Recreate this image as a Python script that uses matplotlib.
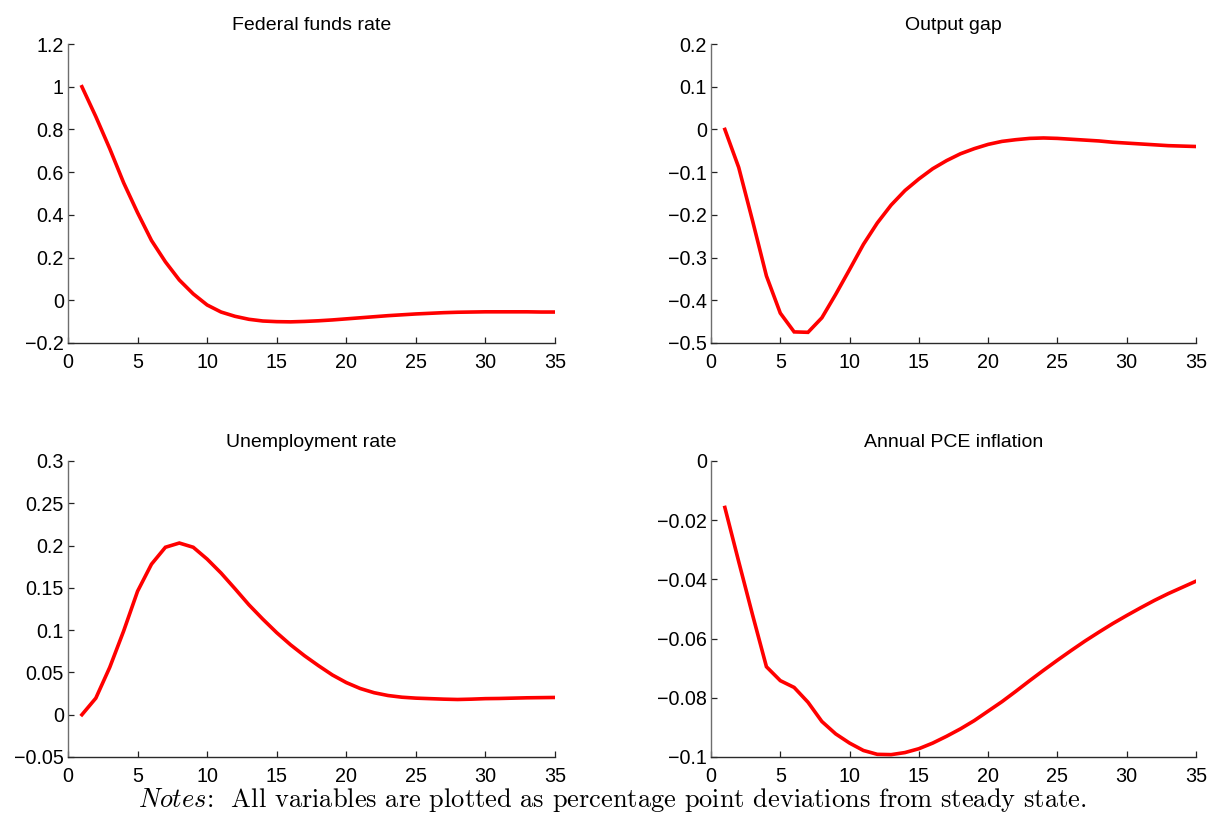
import matplotlib
matplotlib.use("Agg")
import matplotlib.pyplot as plt
from matplotlib.ticker import FuncFormatter

plt.rcParams["font.family"] = ["Liberation Sans", "DejaVu Sans"]
plt.rcParams["mathtext.fontset"] = "cm"

quarters = list(range(1, 36))

fed_funds = [1.00, 0.86, 0.71, 0.55, 0.41, 0.28, 0.18, 0.095, 0.03, -0.022,
             -0.055, -0.075, -0.089, -0.097, -0.100, -0.101, -0.099, -0.096, -0.092, -0.087,
             -0.082, -0.077, -0.072, -0.068, -0.064, -0.061, -0.058, -0.056, -0.055, -0.054,
             -0.054, -0.054, -0.054, -0.055, -0.055]

output_gap = [0.0, -0.089, -0.214, -0.343, -0.430, -0.474, -0.475, -0.441, -0.386, -0.328,
              -0.269, -0.219, -0.177, -0.143, -0.116, -0.092, -0.073, -0.057, -0.045, -0.035,
              -0.028, -0.024, -0.021, -0.020, -0.021, -0.023, -0.025, -0.027, -0.030, -0.032,
              -0.034, -0.036, -0.038, -0.039, -0.040]

unemployment = [0.0, 0.0196, 0.056, 0.099, 0.146, 0.178, 0.198, 0.203, 0.198, 0.184,
                0.1675, 0.149, 0.130, 0.113, 0.097, 0.0826, 0.0697, 0.058, 0.047, 0.038,
                0.031, 0.026, 0.0227, 0.0207, 0.0196, 0.019, 0.0184, 0.018, 0.0184, 0.019,
                0.0192, 0.0196, 0.020, 0.0202, 0.0204]

pce_inflation = [-0.0157, -0.034, -0.052, -0.0695, -0.0742, -0.0765, -0.0815, -0.088, -0.0922, -0.0953,
                 -0.0978, -0.0991, -0.0992, -0.0985, -0.0972, -0.0953, -0.093, -0.0905, -0.0877, -0.0845,
                 -0.0813, -0.0778, -0.0742, -0.0707, -0.0673, -0.064, -0.0608, -0.0578, -0.0549, -0.0522,
                 -0.0496, -0.0471, -0.0448, -0.0427, -0.0406]

titles = ["Federal funds rate", "Output gap", "Unemployment rate", "Annual PCE inflation"]
series = [fed_funds, output_gap, unemployment, pce_inflation]
y_limits = [(-0.2, 1.2), (-0.5, 0.2), (-0.05, 0.3), (-0.1, 0.0)]
y_ticks = [[-0.2, 0, 0.2, 0.4, 0.6, 0.8, 1, 1.2],
           [-0.5, -0.4, -0.3, -0.2, -0.1, 0, 0.1, 0.2],
           [-0.05, 0, 0.05, 0.1, 0.15, 0.2, 0.25, 0.3],
           [-0.1, -0.08, -0.06, -0.04, -0.02, 0]]
x_ticks = [0, 5, 10, 15, 20, 25, 30, 35]

W, H = 1209, 814
fig = plt.figure(figsize=(W / 100, H / 100), dpi=100)

# panel boxes in pixels: (left, right, top, bottom)
boxes = [(68, 555, 44, 343), (711, 1196, 44, 343),
         (68, 555, 461, 757), (711, 1196, 461, 757)]


def fmt(v, _pos):
    s = "%g" % round(v, 6)
    return s.replace("-", "\u2212")


for box, title, y, ylim, yt in zip(boxes, titles, series, y_limits, y_ticks):
    l, r, t, b = box
    ax = fig.add_axes([l / W, 1 - b / H, (r - l) / W, (b - t) / H])
    ax.plot(quarters, y, color="#ff0000", lw=2.6, solid_joinstyle="miter")
    ax.set_xlim(0, 35)
    ax.set_ylim(*ylim)
    ax.set_xticks(x_ticks)
    ax.set_yticks(yt)
    ax.yaxis.set_major_formatter(FuncFormatter(fmt))
    ax.xaxis.set_major_formatter(FuncFormatter(fmt))
    ax.spines["top"].set_visible(False)
    ax.spines["right"].set_visible(False)
    ax.spines["left"].set_color("#6e6e6e")
    ax.spines["bottom"].set_color("#2a2a2a")
    ax.spines["left"].set_linewidth(1.0)
    ax.spines["bottom"].set_linewidth(1.0)
    ax.tick_params(direction="in", length=4, width=0.9, labelsize=14.2,
                   colors="#222222", labelcolor="black", pad=3)
    ax.tick_params(axis="x", pad=7)
    ax.set_title(title, fontsize=14, pad=10)
    ax.patch.set_visible(False)

# footnote in Computer Modern: italic lead-in, roman body
fig.text(0.506, 1 - 800 / H,
         r"$\mathit{Notes}$:  All variables are plotted as percentage point deviations from steady state.",
         ha="center", va="center", fontsize=19, family="cmr10")

fig.savefig("out.png", dpi=100, facecolor="white")
